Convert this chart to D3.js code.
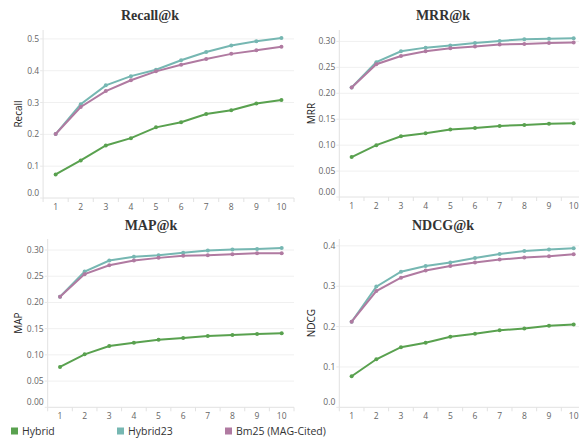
<!DOCTYPE html>
<html><head><meta charset="utf-8">
<script src="https://cdn.jsdelivr.net/npm/d3@7"></script>
<style>body{margin:0;background:#fff}svg{display:block}</style>
</head><body>
<svg id="c" width="579" height="442"></svg>
<script>
const ks = [1,2,3,4,5,6,7,8,9,10];
const seriesNames = ["Hybrid","Hybrid23","Bm25 (MAG-Cited)"];
const colors = ["#59a14f","#76b7b2","#b07aa1"];

const recallHybrid   = [0.074,0.118,0.165,0.188,0.222,0.238,0.264,0.276,0.297,0.308];
const recallHybrid23 = [0.201,0.295,0.354,0.383,0.403,0.433,0.459,0.479,0.493,0.503];
const recallBm25     = [0.201,0.286,0.336,0.370,0.398,0.419,0.437,0.453,0.464,0.475];

const mrrHybrid   = [0.077,0.100,0.117,0.123,0.130,0.133,0.137,0.139,0.141,0.142];
const mrrHybrid23 = [0.211,0.260,0.281,0.288,0.292,0.297,0.301,0.304,0.305,0.306];
const mrrBm25     = [0.211,0.256,0.272,0.281,0.287,0.290,0.294,0.295,0.297,0.298];

const mapHybrid   = [0.077,0.101,0.117,0.123,0.129,0.132,0.136,0.138,0.140,0.141];
const mapHybrid23 = [0.211,0.259,0.280,0.287,0.290,0.295,0.299,0.301,0.302,0.304];
const mapBm25     = [0.211,0.254,0.271,0.280,0.285,0.289,0.290,0.292,0.294,0.294];

const ndcgHybrid   = [0.077,0.119,0.149,0.160,0.175,0.182,0.191,0.195,0.202,0.205];
const ndcgHybrid23 = [0.212,0.299,0.336,0.350,0.359,0.370,0.380,0.387,0.391,0.394];
const ndcgBm25     = [0.212,0.288,0.321,0.339,0.350,0.359,0.366,0.371,0.374,0.379];

const recallTicks = [0,0.1,0.2,0.3,0.4,0.5];
const rrTicks = [0,0.05,0.10,0.15,0.20,0.25,0.30];
const ndcgTicks = [0,0.1,0.2,0.3,0.4];

const panels = [
  {title:"Recall@k", ylab:"Recall", series:[recallHybrid,recallHybrid23,recallBm25], ticks:recallTicks, fmt:d3.format(".1f"), dmax:0.528,
   left:43.1, right:294, top:30, bottom:198, tx:150, ty:20, lx:18},
  {title:"MRR@k", ylab:"MRR", series:[mrrHybrid,mrrHybrid23,mrrBm25], ticks:rrTicks, fmt:d3.format(".2f"), dmax:0.322,
   left:339.3, right:586, top:30, bottom:197, tx:443, ty:20, lx:311},
  {title:"MAP@k", ylab:"MAP", series:[mapHybrid,mapHybrid23,mapBm25], ticks:rrTicks, fmt:d3.format(".2f"), dmax:0.321,
   left:47.7, right:294, top:239, bottom:407.3, tx:151, ty:230, lx:18},
  {title:"NDCG@k", ylab:"NDCG", series:[ndcgHybrid,ndcgHybrid23,ndcgBm25], ticks:ndcgTicks, fmt:d3.format(".1f"), dmax:0.417,
   left:339.3, right:586, top:239, bottom:407.3, tx:443, ty:230, lx:311}
];

const svg = d3.select("#c");
const sans = "'Open Sans', 'DejaVu Sans', sans-serif";

panels.forEach(p => {
  const g = svg.append("g");
  const x = d3.scalePoint().domain(ks).range([p.left, p.right]).padding(0.5);
  const y = d3.scaleLinear().domain([0, p.dmax]).range([p.bottom, p.top]);
  const step = x.step();

  g.selectAll(".grid").data(p.ticks.filter(t => t > 0)).join("line")
    .attr("x1", p.left).attr("x2", p.right)
    .attr("y1", d => y(d)).attr("y2", d => y(d))
    .attr("stroke", "#f0f0f0").attr("stroke-width", 1);

  g.append("line").attr("x1", p.left).attr("x2", p.left).attr("y1", p.top).attr("y2", p.bottom)
    .attr("stroke", "#e2e2e2");
  g.append("line").attr("x1", p.left).attr("x2", p.right).attr("y1", p.bottom).attr("y2", p.bottom)
    .attr("stroke", "#e2e2e2");
  g.selectAll(".yt").data(p.ticks).join("line")
    .attr("x1", p.left - 3).attr("x2", p.left).attr("y1", d => y(d)).attr("y2", d => y(d))
    .attr("stroke", "#e8e8e8");

  g.selectAll(".yl").data(p.ticks).join("text")
    .attr("x", p.left - 4)
    .attr("y", d => d === 0 ? y(d) - 5 : y(d))
    .attr("dy", "0.35em")
    .attr("text-anchor", "end")
    .attr("font-family", sans).attr("font-size", 8.5).attr("fill", "#666")
    .text(d => p.fmt(d));

  g.selectAll(".xt").data(d3.range(ks.length + 1)).join("line")
    .attr("x1", i => p.left + i * step).attr("x2", i => p.left + i * step)
    .attr("y1", p.bottom).attr("y2", p.bottom + 4)
    .attr("stroke", "#e2e2e2");

  g.selectAll(".xl").data(ks).join("text")
    .attr("x", d => x(d)).attr("y", p.bottom + 9).attr("dy", "0.35em")
    .attr("text-anchor", "middle")
    .attr("font-family", sans).attr("font-size", 8.5).attr("fill", "#666")
    .text(d => d);

  g.append("text")
    .attr("transform", `translate(${p.lx},${(p.top + p.bottom) / 2}) rotate(-90)`)
    .attr("dy", "0.35em").attr("text-anchor", "middle")
    .attr("font-family", sans).attr("font-size", 10).attr("fill", "#222")
    .text(p.ylab);

  g.append("text").attr("x", p.tx).attr("y", p.ty).attr("text-anchor", "middle")
    .attr("font-family", "'Liberation Serif', 'Times New Roman', serif")
    .attr("font-weight", "bold").attr("font-size", 14).attr("fill", "#333")
    .text(p.title);

  const line = d3.line().x((d, i) => x(ks[i])).y(d => y(d));
  p.series.forEach((s, si) => {
    g.append("path").datum(s).attr("d", line)
      .attr("fill", "none").attr("stroke", colors[si]).attr("stroke-width", 2);
    g.selectAll(".pt" + si).data(s).join("circle")
      .attr("cx", (d, i) => x(ks[i])).attr("cy", d => y(d)).attr("r", 2)
      .attr("fill", colors[si]);
  });
});

const legX = [11, 117, 225];
const lg = svg.append("g");
seriesNames.forEach((n, i) => {
  lg.append("rect").attr("x", legX[i]).attr("y", 427.5).attr("width", 7).attr("height", 7).attr("fill", colors[i]);
  lg.append("text").attr("x", legX[i] + 11).attr("y", 431).attr("dy", "0.35em")
    .attr("font-family", sans).attr("font-size", 10.5).attr("fill", "#333").text(n);
});
</script>
</body></html>
